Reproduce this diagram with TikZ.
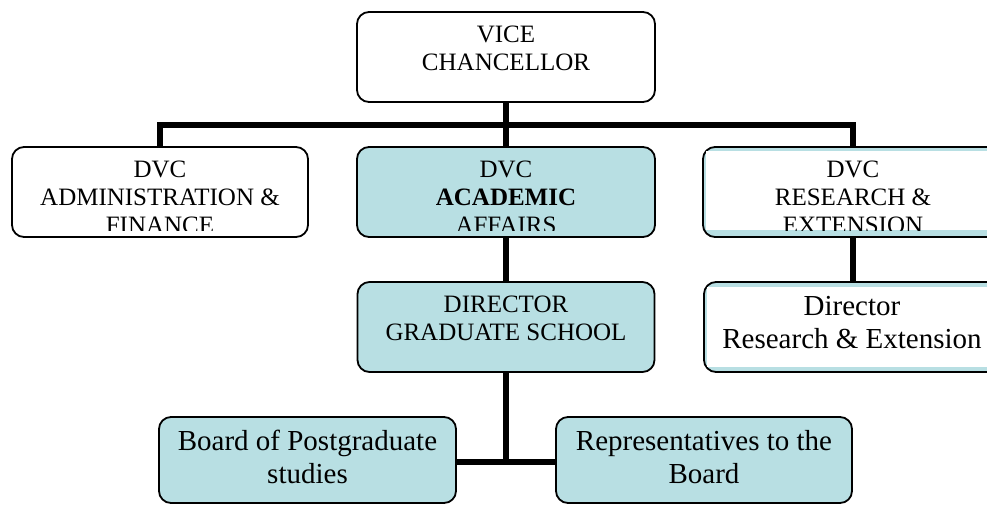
\documentclass[tikz,border=0pt]{standalone}
\usepackage{fontspec}
\setmainfont{Liberation Serif}
\definecolor{boxblue}{RGB}{184,223,227}
\begin{document}
\begin{tikzpicture}[x=1pt,y=-1pt,
  box/.style={draw=black,line width=1.8pt,rounded corners=12pt,inner sep=0pt,minimum height=90pt},
  whitebox/.style={box,fill=white},
  bluebox/.style={box,fill=boxblue},
  capt/.style={anchor=base,inner sep=0pt,font=\fontsize{25}{30}\selectfont},
  mixt/.style={anchor=base,inner sep=0pt,font=\fontsize{29}{34}\selectfont},
  conn/.style={line width=5.5pt,line join=miter}]
\useasboundingbox (0,0) rectangle (987,504);
\fill[white] (0,0) rectangle (987,504);

% boxes
\node[whitebox,minimum width=298pt] (vc) at (506,57) {};
\node[whitebox,minimum width=296pt] (adm) at (160,192) {};
\node[bluebox,minimum width=298pt] (acad) at (506,192) {};
\node[bluebox,minimum width=300pt] (res) at (853,192) {};
\fill[white] (706,151) rectangle (1003,230);
\node[bluebox,minimum width=297pt] (dgs) at (506,327) {};
\node[bluebox,minimum width=298pt] (dre) at (853,327) {};
\fill[white] (707,287) rectangle (1002,367);
\node[bluebox,minimum width=297pt,minimum height=86pt] (bps) at (307.5,460) {};
\node[bluebox,minimum width=296pt,minimum height=86pt] (rep) at (704,460) {};

% connectors
\coordinate (busL) at (160,125);
\coordinate (busR) at (853,125);
\coordinate (jn) at (506,462);
\draw[conn] (vc.south) -- (acad.north);
\draw[conn] (adm.north) -- (busL) -- (busR) -- (res.north);
\draw[conn] (acad.south) -- (dgs.north);
\draw[conn] (dgs.south) -- (jn);
\draw[conn] (bps.east |- jn) -- (rep.west |- jn);
\draw[conn] (res.south) -- (dre.north);

% texts
\node[capt] (vc1) at (506,42) {VICE};
\node[capt] (vc2) at (506,70) {CHANCELLOR};
\node[capt] (adm1) at (160,177) {DVC};
\node[capt] (adm2) at (160,205) {ADMINISTRATION \&};
\node[capt] (acad1) at (506,177) {DVC};
\node[capt] (acad2) at (506,205) {\bfseries ACADEMIC};
\node[capt] (res1) at (853,177) {DVC};
\node[capt] (res2) at (853,205) {RESEARCH \&};
\begin{scope}
\clip (0,0) rectangle (987,230.5);
\node[capt] (adm3) at (160,233) {FINANCE};
\node[capt] (acad3) at (506,233) {AFFAIRS};
\node[capt] (res3) at (853,233) {EXTENSION};
\end{scope}
\node[capt] (dgs1) at (506,312) {DIRECTOR};
\node[capt] (dgs2) at (506,340) {GRADUATE SCHOOL};
\node[mixt] (dre1) at (852,315) {Director};
\node[mixt] (dre2) at (852,348) {Research \& Extension};
\node[mixt] (bps1) at (307.5,450) {Board of Postgraduate};
\node[mixt] (bps2) at (307.5,483) {studies};
\node[mixt] (rep1) at (704,450) {Representatives to the};
\node[mixt] (rep2) at (704,483) {Board};
\end{tikzpicture}
\end{document}
